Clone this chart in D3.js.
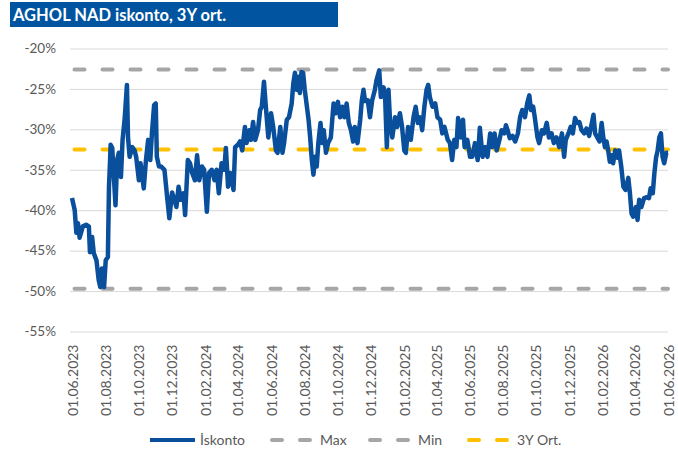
<!DOCTYPE html>
<html>
<head>
<meta charset="utf-8">
<script src="https://cdn.jsdelivr.net/npm/d3@7"></script>
<style>
  body { margin: 0; background: #fff; }
  text { font-family: Lato, "Open Sans", sans-serif; }
</style>
</head>
<body>
<script>
// chart data
var startDate = "2023-06-01",
    endDate = "2026-06-01";

// [days since start, discount %]
var iskonto = [
  [0,-38.5],[5,-40],[8,-42.8],[11,-41.6],[14,-43.4],[20,-42],[26,-41.8],[31,-42],[33,-45.2],[37,-43.3],
  [40,-45.3],[45,-46.2],[49,-48.6],[52,-49.5],[55,-47.2],[59,-49.5],[62,-46.2],[66,-45.8],[68,-37.1],[70,-33.8],
  [71,-31.9],[74,-32.3],[77,-35.9],[80,-39.4],[83,-33.8],[86,-32.9],[90,-35.9],[93,-31.3],[97,-28.6],[101,-24.5],
  [103,-31],[106,-33.4],[111,-32.2],[115,-32.6],[118,-33.4],[123,-36.3],[126,-34.2],[132,-37.3],[136,-33.8],[140,-31.3],
  [144,-33.8],[147,-30.5],[151,-27],[154,-26.8],[156,-33.4],[160,-34.6],[164,-34.6],[170,-35],[175,-38.4],[179,-41],
  [184,-37.8],[192,-39.6],[196,-37.1],[200,-38.7],[205,-37.9],[208,-40.6],[213,-33.8],[217,-34.2],[221,-35.4],[226,-36.3],
  [230,-33.2],[234,-36.3],[239,-34.6],[243,-35],[248,-40.2],[252,-35.4],[257,-35],[262,-36.3],[266,-35],[270,-37.9],
  [275,-34.2],[280,-35],[283,-32.3],[287,-37.1],[291,-35.4],[294,-36.3],[297,-37.5],[300,-32.2],[305,-31.9],[309,-31.5],
  [313,-32.6],[318,-29.7],[321,-31.7],[326,-30.1],[329,-31.3],[333,-29.1],[337,-31.3],[342,-30.1],[346,-27.6],[349,-27.2],
  [353,-24.1],[356,-26.8],[361,-31],[366,-28],[370,-29.7],[375,-32.6],[378,-32.9],[383,-29.7],[387,-32.9],[390,-31.7],
  [395,-28.8],[399,-28.5],[404,-26.8],[407,-24.3],[410,-23],[413,-25.1],[416,-23.5],[419,-25.5],[422,-22.9],[425,-23],
  [428,-25.1],[432,-27.2],[435,-28.8],[438,-31],[441,-33.8],[444,-35.6],[447,-33.4],[450,-34.6],[453,-31.7],[457,-29.2],
  [460,-31.7],[463,-30.1],[467,-32.9],[471,-31.7],[476,-31],[481,-26.8],[485,-28],[489,-26.6],[493,-28.5],[497,-27.2],
  [501,-28.5],[505,-26.8],[509,-29.2],[513,-30.1],[517,-31.5],[520,-29.7],[525,-31.7],[530,-28.8],[533,-26.4],[536,-25.1],
  [539,-26.5],[544,-26.4],[548,-28.5],[552,-26.4],[557,-25.1],[560,-23.9],[565,-22.7],[568,-26],[573,-24.8],[576,-26.4],
  [579,-32.2],[582,-25.1],[585,-29.2],[589,-31],[594,-28.5],[598,-29.7],[603,-28],[607,-29.7],[611,-32.6],[614,-32.9],
  [618,-29.7],[623,-31.3],[628,-28.5],[632,-27.2],[636,-29.2],[640,-28.5],[644,-30.1],[648,-27.2],[652,-25.1],[655,-24.5],
  [658,-26],[663,-27.2],[668,-26.8],[672,-28.5],[677,-28.8],[681,-30.5],[685,-29.7],[691,-31.3],[695,-31.7],[699,-33.8],
  [703,-31.3],[707,-32.2],[710,-28.6],[715,-31],[719,-28.8],[722,-32.2],[727,-31.3],[732,-33.4],[736,-33.4],[741,-31.7],
  [746,-33.8],[750,-29.8],[755,-33.4],[760,-32.2],[764,-33.4],[769,-30.5],[773,-32.2],[777,-30.5],[781,-32.6],[786,-31.3],
  [790,-30.1],[795,-30.5],[798,-29.5],[801,-30.1],[805,-31.1],[810,-30.8],[815,-31.5],[820,-30.5],[824,-28.5],[828,-27.6],
  [833,-28.5],[837,-26.8],[841,-25.8],[844,-27.6],[848,-27.2],[851,-28.5],[856,-31],[859,-31.7],[864,-30.1],[868,-30.5],
  [873,-29.2],[877,-31],[882,-30.5],[886,-31.7],[891,-31],[896,-32.2],[901,-30.5],[905,-33.4],[908,-31.3],[913,-30.5],
  [917,-29.7],[921,-30.5],[925,-28.6],[929,-29.2],[933,-29.1],[937,-30.1],[942,-30.5],[946,-29.9],[951,-30.8],[956,-29.2],
  [959,-28.2],[962,-30.5],[966,-31],[970,-31.5],[974,-29.2],[977,-31],[980,-32.2],[983,-31.5],[986,-32.6],[989,-34],
  [992,-33.2],[995,-34.2],[999,-32.6],[1003,-33.5],[1006,-32.6],[1010,-34.6],[1014,-37.1],[1018,-37.5],[1023,-36],[1026,-37.9],
  [1029,-40.4],[1032,-40.8],[1037,-39.6],[1040,-41.2],[1043,-38.7],[1047,-39.6],[1052,-38.5],[1057,-38.4],[1061,-38.5],[1064,-37.3],
  [1068,-37.9],[1071,-35.4],[1074,-33.5],[1077,-32.6],[1080,-31],[1083,-30.5],[1086,-33.4],[1089,-34.2],[1093,-32.9],[1096,-32.9]
];

var maxValue = -22.6,
    minValue = -49.7,
    avgValue = -32.5;

var yTicks = [-20, -25, -30, -35, -40, -45, -50, -55];
var legendLabels = ["İskonto", "Max", "Min", "3Y Ort."];
var titleText = "AGHOL NAD iskonto, 3Y ort.";

// svg set-up
var svgWidth = 678,
    svgHeight = 459,
    margin = {top: 48.5, right: 10, bottom: 127.5, left: 72};

var width = svgWidth - margin.left - margin.right,
    height = svgHeight - margin.top - margin.bottom;

var svg = d3.select("body")
  .append("svg")
    .attr("width", svgWidth)
    .attr("height", svgHeight);

// title bar
svg.append("rect")
  .attr("x", 10).attr("y", 2)
  .attr("width", 328).attr("height", 25)
  .attr("fill", "#0054a0");

svg.append("text")
  .attr("x", 13).attr("y", 20.5)
  .attr("fill", "#fff")
  .attr("font-size", "16.5px")
  .attr("font-weight", "bold")
  .text(titleText);

var chart = svg.append("g")
  .attr("transform", "translate(" + margin.left + "," + margin.top + ")");

var parseDate = d3.timeParse("%Y-%m-%d"),
    start = parseDate(startDate),
    end = parseDate(endDate);

var data = iskonto.map(function(d) {
  return {date: d3.timeDay.offset(start, d[0]), value: d[1]};
});

var xScale = d3.scaleTime().domain([start, end]).range([0, width]),
    yScale = d3.scaleLinear().domain([-55, -20]).range([height, 0]);

// y axis with gridlines
var yAxis = d3.axisLeft(yScale)
  .tickValues(yTicks)
  .tickSize(-(width + 2))
  .tickFormat(function(d) { return d + "%"; });

chart.append("g")
  .attr("class", "y-axis")
  .attr("transform", "translate(-2,0)")
  .call(yAxis)
  .call(function(g) {
    g.select(".domain").remove();
    g.selectAll(".tick line").attr("stroke", "#d9d9d9").attr("stroke-width", 1);
    g.selectAll(".tick text")
      .attr("x", -14)
      .attr("fill", "#595959")
      .attr("font-size", "13.5px")
      .attr("font-family", "Lato, sans-serif");
  });

// x axis, two-month ticks
var xTicks = d3.timeMonth.range(start, d3.timeDay.offset(end, 1), 2);

var xAxis = d3.axisBottom(xScale)
  .tickValues(xTicks)
  .tickSize(0)
  .tickFormat(d3.timeFormat("%d.%m.%Y"));

chart.append("g")
  .attr("class", "x-axis")
  .attr("transform", "translate(0," + height + ")")
  .call(xAxis)
  .call(function(g) {
    g.select(".domain").remove();
    g.selectAll(".tick text")
      .attr("transform", "rotate(-90)")
      .attr("text-anchor", "end")
      .attr("x", -13)
      .attr("y", 0)
      .attr("dy", "0.36em")
      .attr("fill", "#595959")
      .attr("font-size", "14px")
      .attr("font-family", "Lato, sans-serif");
  });

// reference lines
var refLines = [
  {value: maxValue, color: "#a6a6a6"},
  {value: minValue, color: "#a6a6a6"},
  {value: avgValue, color: "#ffc000"}
];

chart.selectAll(".ref")
  .data(refLines).enter()
  .append("line")
    .attr("class", "ref")
    .attr("x1", 2.5)
    .attr("x2", width)
    .attr("y1", function(d) { return yScale(d.value); })
    .attr("y2", function(d) { return yScale(d.value); })
    .attr("stroke", function(d) { return d.color; })
    .attr("stroke-width", 4)
    .attr("stroke-linecap", "round")
    .attr("stroke-dasharray", "10,18");

// discount line
var line = d3.line()
  .x(function(d) { return xScale(d.date); })
  .y(function(d) { return yScale(d.value); });

chart.append("path")
  .datum(data)
  .attr("d", line)
  .attr("fill", "none")
  .attr("stroke", "#0a4f9c")
  .attr("stroke-width", 4.5)
  .attr("stroke-linejoin", "round");

// legend
var legendX = [150, 270, 368, 467],
    legendColors = ["#0a4f9c", "#a6a6a6", "#a6a6a6", "#ffc000"],
    legendY = 440;

var legend = svg.selectAll(".legend")
  .data(legendLabels).enter()
  .append("g")
    .attr("class", "legend")
    .attr("transform", function(d, i) { return "translate(" + legendX[i] + "," + legendY + ")"; });

legend.append("line")
  .attr("x1", function(d, i) { return i == 0 ? 0 : 2; })
  .attr("x2", function(d, i) { return i == 0 ? 45 : 40; })
  .attr("stroke", function(d, i) { return legendColors[i]; })
  .attr("stroke-width", 4)
  .attr("stroke-linecap", function(d, i) { return i == 0 ? "butt" : "round"; })
  .attr("stroke-dasharray", function(d, i) { return i == 0 ? null : "10,18"; });

legend.append("text")
  .attr("x", 50)
  .attr("dy", "0.35em")
  .attr("fill", "#595959")
  .attr("font-size", "14px")
  .text(function(d) { return d; });
</script>
</body>
</html>
